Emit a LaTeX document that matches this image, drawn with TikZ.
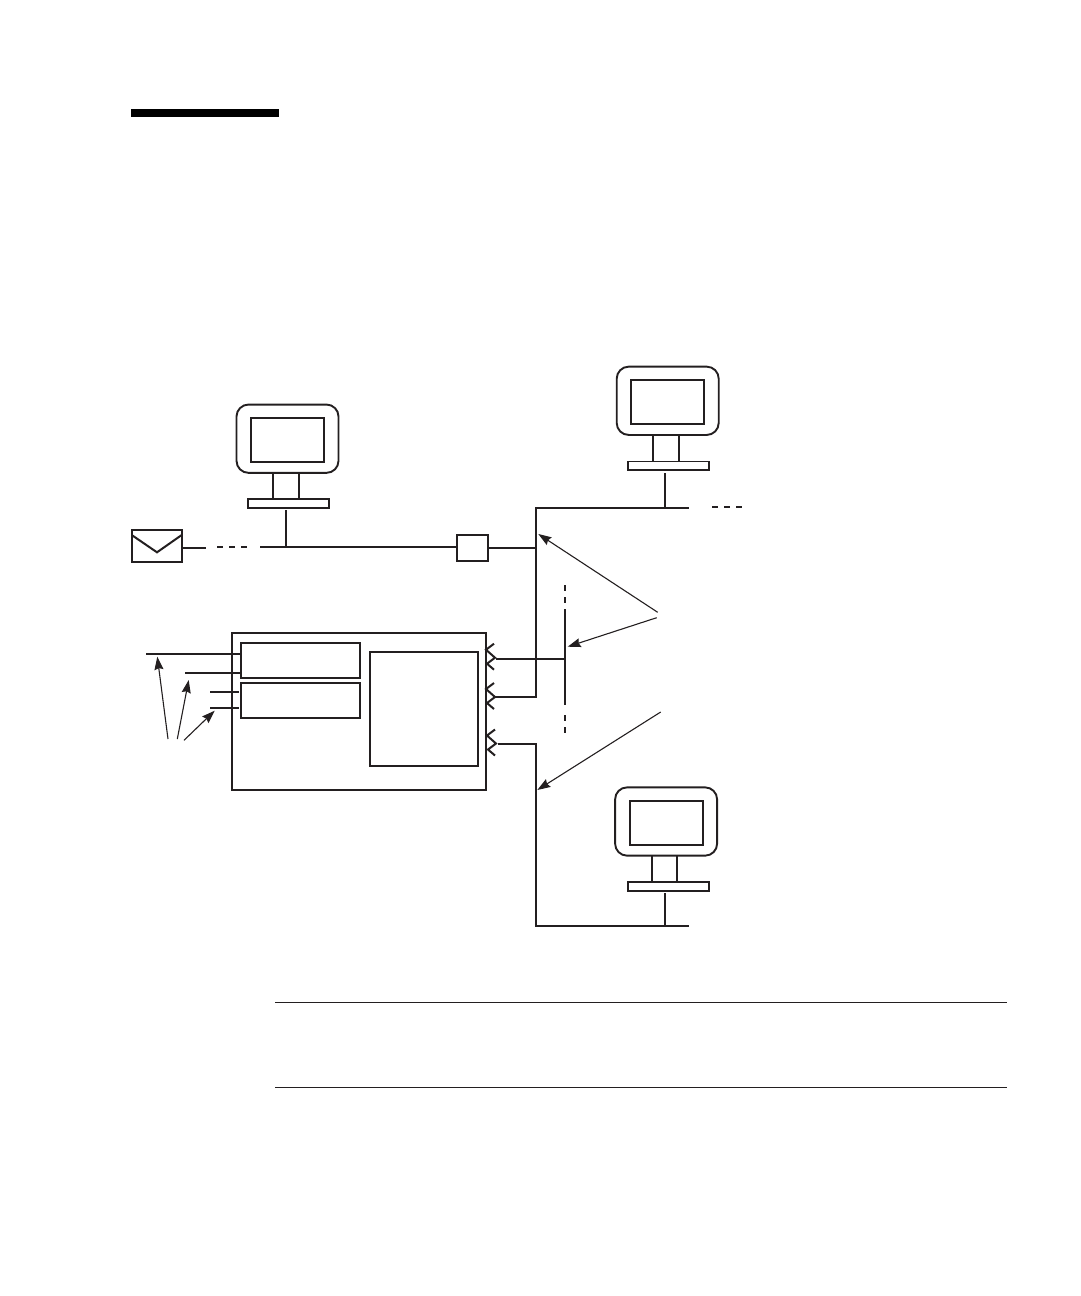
\documentclass[tikz,border=0pt]{standalone}
\usetikzlibrary{arrows.meta}

\newcommand{\monitor}[4]{
	\node[housing] (housing#1) at (#2,#3) {};
	\node[screen] (screen#1) at (#2,#3+1.3) {};
	\node[stand] (base#1) at (#4,#3+65) {};
	\draw[wire] (#2-14.3,#3+34.2) -- (#2-14.3,#3+61);
	\draw[wire] (#2+11.2,#3+34.2) -- (#2+11.2,#3+61);
}

\begin{document}
\begin{tikzpicture}[
  x=1pt, y=-1pt,
  box/.style={draw=ink, line width=1.9pt, inner sep=0pt, outer sep=0pt},
  housing/.style={box, rounded corners=12pt, minimum width=102pt, minimum height=68.3pt},
  screen/.style={box, minimum width=73pt, minimum height=44pt},
  stand/.style={box, minimum width=81.5pt, minimum height=8.6pt},
  wire/.style={draw=ink, line width=2pt},
  gapped/.style={wire, dash pattern=on 6pt off 6pt},
  pointer/.style={draw=ink, line width=1.1pt, -{Stealth[length=13pt, width=9pt, inset=1.5pt]}},
  rule/.style={draw=ink, line width=1pt},
  jack/.pic={\draw[wire] (-1,-14) -- (-9,-8) -- (0,0) -- (-8,6) -- (-1,12);}
  ]
	\definecolor{ink}{HTML}{231F20}
	\useasboundingbox (0,0) rectangle (1080,1296);

	\fill[black] (131,109) rectangle (279,117);
	\coordinate (ruleTopL) at (275,1002);
	\coordinate (ruleTopR) at (1007,1002);
	\coordinate (ruleLowL) at (275,1087);
	\coordinate (ruleLowR) at (1007,1087);
	\draw[rule] (ruleTopL) -- (ruleTopR);
	\draw[rule] (ruleLowL) -- (ruleLowR);

	\monitor{A}{287.5}{438.7}{288.5}
	\monitor{B}{667.7}{400.8}{668.5}
	\monitor{C}{666.1}{821.5}{668.5}

	\node[box, minimum width=50pt, minimum height=32.6pt] (mail) at (156.7,546) {};
	\draw[wire] (mail.north west |- 0,535) -- (157,552.3) -- (mail.north east |- 0,535);
	\node[box, minimum width=30.4pt, minimum height=26.6pt] (hub) at (472.5,548) {};

	\node[box, minimum width=254.3pt, minimum height=157pt] (chassis) at (359.2,711.5) {};
	\node[box, minimum width=119.6pt, minimum height=35pt] (cardA) at (300.5,660.5) {};
	\node[box, minimum width=119.6pt, minimum height=35.3pt] (cardB) at (300.5,700.3) {};
	\node[box, minimum width=108.3pt, minimum height=114pt] (cpu) at (424.2,709) {};

	\coordinate (jackA) at (495,657.7);
	\coordinate (jackB) at (495,697);
	\coordinate (jackC) at (496,743.5);
	\pic at (jackA) {jack};
	\pic at (jackB) {jack};
	\pic at (jackC) {jack};

	\coordinate (tapA) at (286,547);
	\coordinate (tapB) at (664.7,508);
	\coordinate (tapC) at (664.7,926);
	\coordinate (mailEnd) at (206,547.7);
	\coordinate (dashAL) at (217,546.7);
	\coordinate (dashAR) at (247,546.7);
	\coordinate (busAL) at (260,547);
	\coordinate (trunkTop) at (535.5,508);
	\coordinate (trunkEnd) at (688.7,508);
	\coordinate (trunkHub) at (535.5,547.7);
	\coordinate (dashBL) at (712,507);
	\coordinate (dashBR) at (742,507);
	\coordinate (lanLow) at (536,926);
	\coordinate (lanEnd) at (689,926);
	\coordinate (stubTop) at (565,609);
	\coordinate (stubLow) at (565,705);
	\coordinate (stubTapA) at (565,658.7);
	\coordinate (stubDashA) at (565,585);
	\coordinate (stubDashB) at (565,603);
	\coordinate (stubDashC) at (565,715);
	\coordinate (stubDashD) at (565,733);

	\draw[wire] (mail.east |- mailEnd) -- (mailEnd);
	\draw[gapped] (dashAL) -- (dashAR);
	\draw[wire] (busAL) -- (hub.west |- busAL);
	\draw[wire] (tapA) -- ([yshift=-2pt]tapA |- baseA.south);
	\draw[wire] (hub.east |- trunkHub) -- (trunkHub);
	\draw[wire] (trunkEnd) -- (trunkTop) -- (trunkTop |- jackB) -- (jackB);
	\draw[wire] (tapB) -- ([yshift=-3pt]tapB |- baseB.south);
	\draw[gapped] (dashBL) -- (dashBR);
	\draw[wire] ([xshift=2pt]jackC) -- (lanLow |- jackC) -- (lanLow) -- (lanEnd);
	\draw[wire] (tapC) -- ([yshift=-2pt]tapC |- baseC.south);

	\draw[wire] ([xshift=1pt]jackA |- stubTapA) -- (stubTapA);
	\draw[wire] (stubTop) -- (stubLow);
	\draw[gapped] (stubDashA) -- (stubDashB);
	\draw[gapped] (stubDashC) -- (stubDashD);

	\coordinate (lineA) at (146,654);
	\coordinate (lineB) at (185,672.7);
	\coordinate (lineC) at (210,691.7);
	\coordinate (lineD) at (210,708);
	\draw[wire] (lineA) -- (cardA.west |- lineA);
	\draw[wire] (lineB) -- (cardA.west |- lineB);
	\draw[wire] (lineC) -- ([xshift=-2pt]cardB.west |- lineC);
	\draw[wire] (lineD) -- ([xshift=-2pt]cardB.west |- lineD);

	\draw[pointer] (168,739) -- (157.3,656.7);
	\draw[pointer] (177.3,739) -- (188.7,680);
	\draw[pointer] (184,740.3) -- (214.7,710.7);
	\draw[pointer] (657.7,612.3) -- (538.3,534);
	\draw[pointer] (656.7,617.7) -- (567.7,646.7);
	\draw[pointer] (660.7,712) -- (537.3,790);
\end{tikzpicture}
\end{document}
